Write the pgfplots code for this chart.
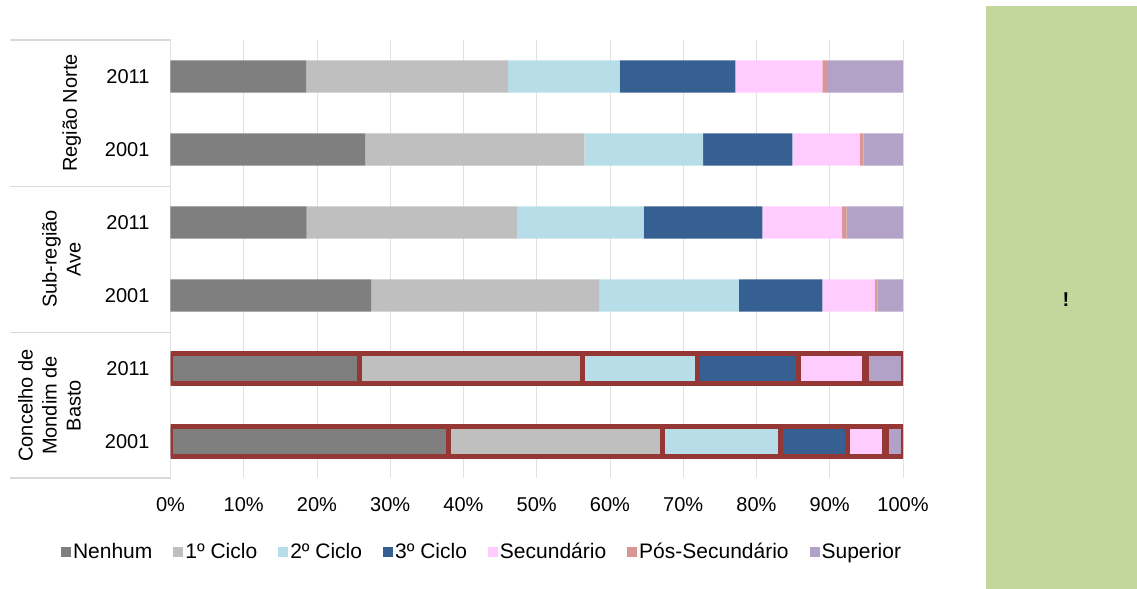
\documentclass[border=0pt]{standalone}
\usepackage{fontspec}
\setmainfont{Liberation Sans}
\usepackage{pgfplots}
\usepackage{pgfplotstable}
\pgfplotsset{compat=1.18}

\definecolor{cNen}{HTML}{7F7F7F}
\definecolor{cCa}{HTML}{BFBFBF}
\definecolor{cCb}{HTML}{B7DEE8}
\definecolor{cCc}{HTML}{376092}
\definecolor{cSec}{HTML}{FFCCFF}
\definecolor{cPos}{HTML}{DA9694}
\definecolor{cSup}{HTML}{B3A2C7}
\definecolor{cBord}{HTML}{953735}
\definecolor{cGreen}{HTML}{C3D69B}
\definecolor{cGrid}{HTML}{D9D9D9}

% rows: 0 Mondim 2001, 1 Mondim 2011, 2 Ave 2001, 3 Ave 2011, 4 Norte 2001, 5 Norte 2011
\pgfplotstableread{
y nen ca cb cc sec pos sup
2 27.4 31.1 19.1 11.4 7.2 0.3 3.5
3 18.6 28.7 17.3 16.2 10.9 0.6 7.7
4 26.6 29.9 16.2 12.2 9.2 0.5 5.4
5 18.5 27.6 15.2 15.8 11.9 0.6 10.4
}\regions
\pgfplotstableread{
y nen ca cb cc sec pos sup
0 38.0 29.1 16.2 9.1 5.1 0.2 2.3
1 25.8 30.4 15.8 13.7 9.0 0.3 5.0
}\mondim

\begin{document}
\begin{tikzpicture}
\useasboundingbox (0,0) rectangle (568.5pt,294.5pt);
% decorations in pixel coordinates
\begin{scope}[x=0.5pt,y=-0.5pt,shift={(0pt,294.5pt)}]
\fill[cGreen] (986,6) rectangle (1137,589);
\node[font=\bfseries\fontsize{10}{12}\selectfont] at (1066,300) {!};
\draw[cGrid,line width=0.75pt] (10,40) -- (170.5,40);
\draw[cGrid,line width=0.75pt] (10,186.5) -- (170.5,186.5);
\draw[cGrid,line width=0.75pt] (10,332.5) -- (170.5,332.5);
\draw[cGrid,line width=0.75pt] (10,478) -- (170.5,478);
\draw[cGrid,line width=0.75pt] (170.5,40) -- (170.5,478);
\node[rotate=90,anchor=south,align=center,font=\fontsize{10}{12}\selectfont] at (88,113) {Região Norte};
\node[rotate=90,anchor=south,align=center,font=\fontsize{10}{12}\selectfont] at (88,259) {Sub-região\\Ave};
\node[rotate=90,anchor=south,align=center,font=\fontsize{10}{12}\selectfont] at (88,405.5) {Concelho de\\Mondim de\\Basto};
\end{scope}

\begin{axis}[
  at={(85.25pt,55.5pt)}, anchor=south west,
  width=366.25pt, height=219pt, scale only axis,
  xmin=0, xmax=100, ymin=-0.5, ymax=5.5,
  xbar stacked, bar width=0.44,
  axis line style={draw=none},
  tick style={draw=none},
  xmajorgrids, grid style={cGrid!80, line width=0.45pt},
  xtick={0,10,...,100},
  xticklabels={0\%,10\%,20\%,30\%,40\%,50\%,60\%,70\%,80\%,90\%,100\%},
  ytick={0,1,2,3,4,5},
  yticklabels={2001,2011,2001,2011,2001,2011},
  tick label style={font=\fontsize{10}{12}\selectfont},
  xticklabel style={yshift=-6pt},
  yticklabel style={xshift=-7pt},
  legend columns=7,
  legend style={at={(0.4253,-0.169)}, anchor=center, draw=none, fill=none,
    font=\fontsize{10.5}{12}\selectfont,
    column sep=0pt,
    /tikz/every even column/.append style={column sep=9.5pt},
    nodes={inner xsep=1pt}},
  legend image code/.code={\fill[#1,draw=none] (0pt,-2.5pt) rectangle (5pt,2.5pt);},
]
\addplot[fill=cNen, draw=none] table[x=nen,y=y] {\regions};
\addlegendentry{Nenhum}
\addplot[fill=cCa, draw=none] table[x=ca,y=y] {\regions};
\addlegendentry{1º Ciclo}
\addplot[fill=cCb, draw=none] table[x=cb,y=y] {\regions};
\addlegendentry{2º Ciclo}
\addplot[fill=cCc, draw=none] table[x=cc,y=y] {\regions};
\addlegendentry{3º Ciclo}
\addplot[fill=cSec, draw=none] table[x=sec,y=y] {\regions};
\addlegendentry{Secundário}
\addplot[fill=cPos, draw=none] table[x=pos,y=y] {\regions};
\addlegendentry{Pós-Secundário}
\addplot[fill=cSup, draw=none] table[x=sup,y=y] {\regions};
\addlegendentry{Superior}
\end{axis}

\begin{axis}[
  at={(85.25pt,55.5pt)}, anchor=south west,
  width=366.25pt, height=219pt, scale only axis,
  xmin=0, xmax=100, ymin=-0.5, ymax=5.5,
  xbar stacked, bar width=0.40,
  hide axis,
]
\addplot[fill=cNen, draw=cBord, line width=2.5pt] table[x=nen,y=y] {\mondim};
\addplot[fill=cCa, draw=cBord, line width=2.5pt] table[x=ca,y=y] {\mondim};
\addplot[fill=cCb, draw=cBord, line width=2.5pt] table[x=cb,y=y] {\mondim};
\addplot[fill=cCc, draw=cBord, line width=2.5pt] table[x=cc,y=y] {\mondim};
\addplot[fill=cSec, draw=cBord, line width=2.5pt] table[x=sec,y=y] {\mondim};
\addplot[fill=cPos, draw=cBord, line width=2.5pt] table[x=pos,y=y] {\mondim};
\addplot[fill=cSup, draw=cBord, line width=2.5pt] table[x=sup,y=y] {\mondim};
\end{axis}
\end{tikzpicture}
\end{document}
